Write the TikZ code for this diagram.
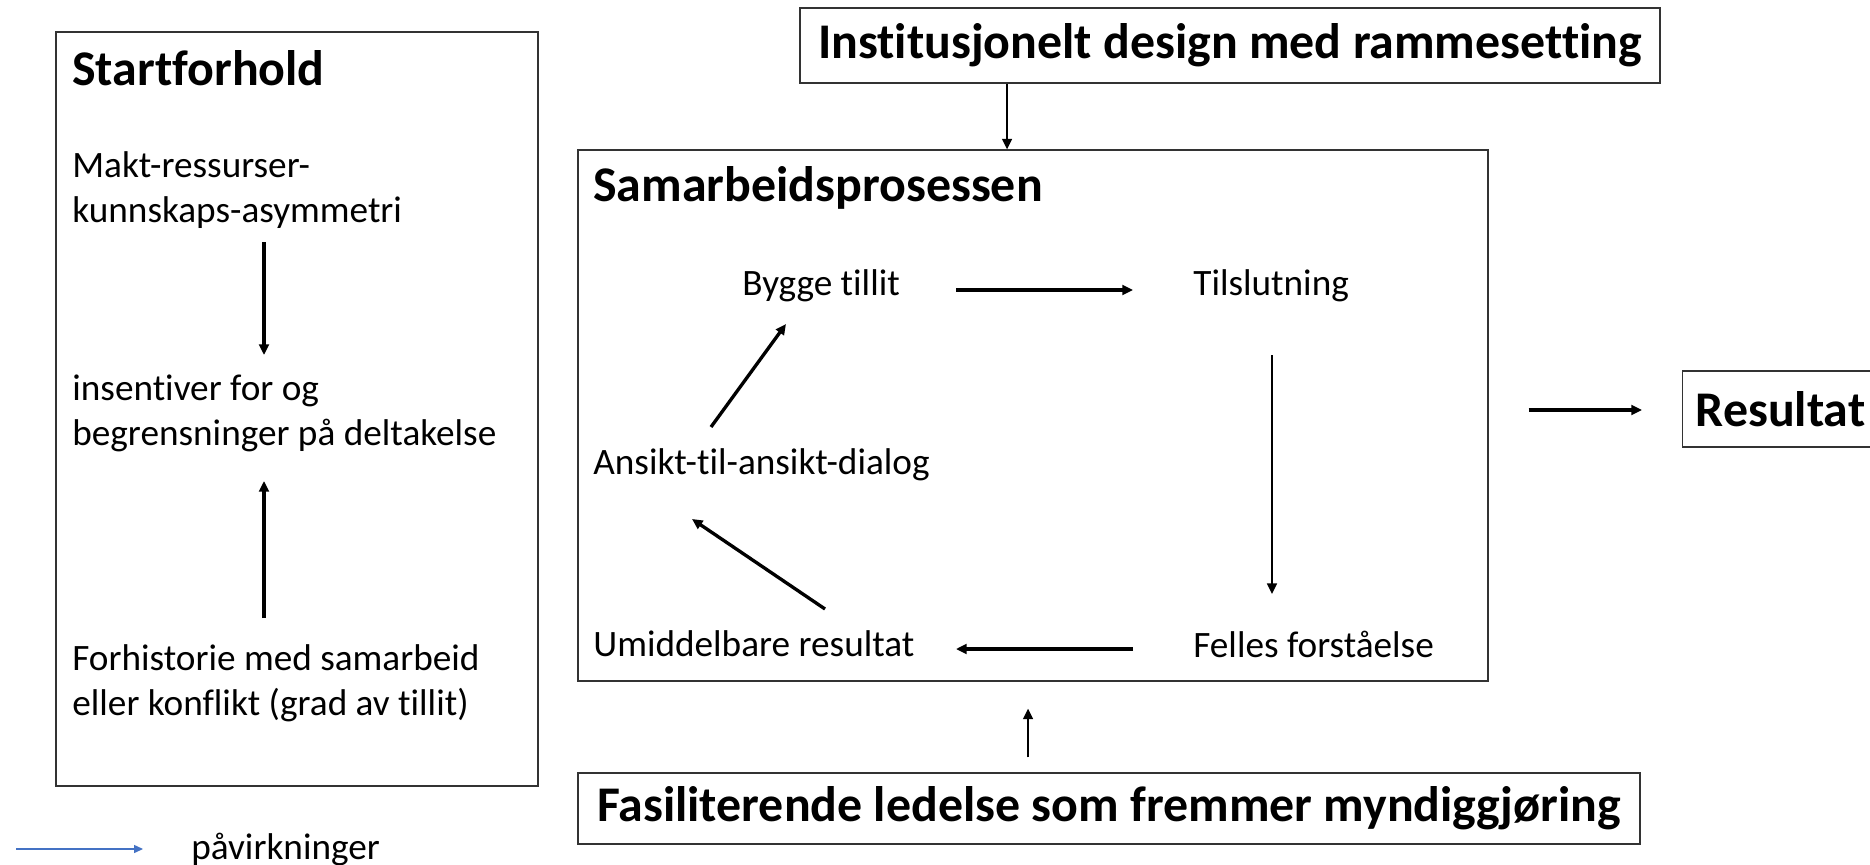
\documentclass[tikz,border=0pt]{standalone}
\usepackage{fontspec}
\setmainfont{Carlito}[Ligatures=NoCommon]
\usepackage{tikz}
\usepackage{xcolor}
\usetikzlibrary{arrows.meta}

\definecolor{legblue}{HTML}{4472C4}

\begin{document}
\begin{tikzpicture}[x=0.02cm, y=-0.02cm,
        box/.style={draw=black!80, line width=0.7pt},
        txt/.style={anchor=west, inner sep=0pt, align=left, font=\fontsize{21.2}{25.5}\selectfont},
        title/.style={inner sep=0pt, font=\fontsize{28.4}{32}\selectfont\bfseries},
        arr/.style={-{Triangle[length=6pt,width=5.5pt]}, line width=1.9pt},
        thinarr/.style={-{Triangle[length=6pt,width=5.5pt]}, line width=1.3pt}]
        \useasboundingbox (0,0) rectangle (1870,865);
        % Startforhold
        \node[box, minimum width=9.64cm, minimum height=15.08cm] (startbox) at (297,409) {};
        \node[title, anchor=west] (start) at (72,68) {Startforhold};
        \node[txt] (makt) at (72,190) {Makt-ressurser-\\kunnskaps-asymmetri};
        \node[txt] (insent) at (72,413) {insentiver for og\\begrensninger på deltakelse};
        \node[txt] (forh) at (72,683) {Forhistorie med samarbeid\\eller konflikt (grad av tillit)};
        \draw[arr] ([shift={(192,52)}]makt.west) -- ([shift={(192,-58)}]insent.west);
        \draw[arr] ([shift={(192,-65)}]forh.west) -- ([shift={(192,68)}]insent.west);
        % Rammer og ledelse
        \node[box, title, minimum width=17.2cm, minimum height=1.5cm] (inst) at (1230,45.5) {Institusjonelt design med rammesetting};
        \node[box, title, minimum width=21.24cm, minimum height=1.42cm] (fas) at (1109,808.5) {Fasiliterende ledelse som fremmer myndiggjøring};
        % Samarbeidsprosessen
        \node[box, minimum width=18.2cm, minimum height=10.62cm] (samarb) at (1033,415.5) {};
        \node[title, anchor=west] (samtitle) at (593,188) {Samarbeidsprosessen};
        \node[txt] (bygge) at (742,286) {Bygge tillit};
        \node[txt] (tils) at (1193,286) {Tilslutning};
        \node[txt] (felles) at (1193,644) {Felles forståelse};
        \node[txt] (umidd) at (593,644) {Umiddelbare resultat};
        \node[txt] (ansikt) at (593,465) {Ansikt-til-ansikt-dialog};
        % Syklusen
        \draw[arr] ([shift={(214,4)}]bygge.west) -- ([shift={(-60,4)}]tils.west);
        \draw[thinarr] ([shift={(79,69)}]tils.west) -- ([shift={(79,-50)}]felles.west);
        \draw[arr] ([shift={(-60,5)}]felles.west) -- ([shift={(363,5)}]umidd.west);
        \draw[arr] ([shift={(232,-35)}]umidd.west) -- ([shift={(99,54)}]ansikt.west);
        \draw[arr] ([shift={(118,-38)}]ansikt.west) -- ([shift={(44,38)}]bygge.west);
        % Resultat
        \node[box, title, anchor=west, text width=3.48cm, inner xsep=0.26cm, align=left, minimum height=1.52cm] (res) at (1682,409) {Resultat};
        \draw[arr] ([shift={(40,-5.5)}]samarb.east) -- ([shift={(-40,1)}]res.west);
        % Pilene inn
        \draw[thinarr] ([shift={(-223,0)}]inst.south) -- ([shift={(-26,0)}]samarb.north);
        \draw[thinarr] ([shift={(-81,-15)}]fas.north) -- ([shift={(-5,27)}]samarb.south);
        % Forklaring
        \node[txt] (leg) at (191,849) {påvirkninger};
        \draw[legblue, -{Triangle[length=5pt,width=4.5pt]}, line width=0.6pt] ([shift={(-175,0)}]leg.west) -- ([shift={(-48,0)}]leg.west);
\end{tikzpicture}
\end{document}
